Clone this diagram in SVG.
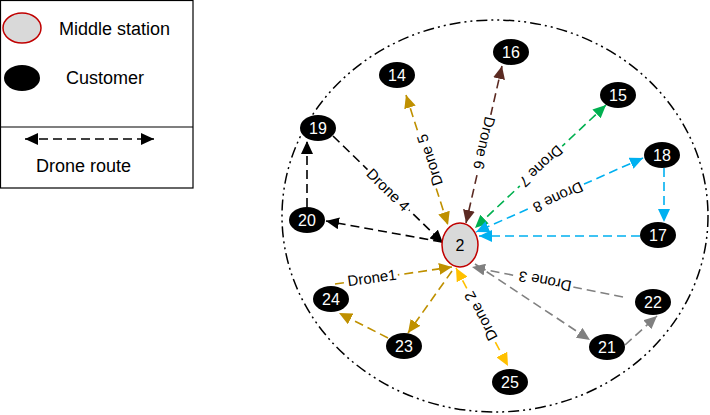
<svg xmlns="http://www.w3.org/2000/svg" width="710" height="415" viewBox="0 0 710 415">
<style>
text{font-family:"Liberation Sans",Arial,sans-serif}
.cust{fill:#000}
.nl{fill:#fff;font-size:16px;text-anchor:middle}
.lg{fill:#000;font-size:18px}
.r{fill:none;stroke-width:1.6;stroke-dasharray:9,5}
.dl{font-size:15px;text-anchor:middle;fill:#000}
.bg{fill:#fff}
</style>
<defs>
<marker id="mk" markerUnits="userSpaceOnUse" markerWidth="14" markerHeight="12" refX="13" refY="6" orient="auto-start-reverse"><path d="M0,0 L13,6 L0,12 z" fill="#000"/></marker>
<marker id="mg" markerUnits="userSpaceOnUse" markerWidth="14" markerHeight="12" refX="13" refY="6" orient="auto-start-reverse"><path d="M0,0 L13,6 L0,12 z" fill="#BF9000"/></marker>
<marker id="mb" markerUnits="userSpaceOnUse" markerWidth="14" markerHeight="12" refX="13" refY="6" orient="auto-start-reverse"><path d="M0,0 L13,6 L0,12 z" fill="#5B2A22"/></marker>
<marker id="mn" markerUnits="userSpaceOnUse" markerWidth="14" markerHeight="12" refX="13" refY="6" orient="auto-start-reverse"><path d="M0,0 L13,6 L0,12 z" fill="#00B050"/></marker>
<marker id="mc" markerUnits="userSpaceOnUse" markerWidth="14" markerHeight="12" refX="13" refY="6" orient="auto-start-reverse"><path d="M0,0 L13,6 L0,12 z" fill="#00B0F0"/></marker>
<marker id="ma" markerUnits="userSpaceOnUse" markerWidth="14" markerHeight="12" refX="13" refY="6" orient="auto-start-reverse"><path d="M0,0 L13,6 L0,12 z" fill="#808080"/></marker>
<marker id="my" markerUnits="userSpaceOnUse" markerWidth="14" markerHeight="12" refX="13" refY="6" orient="auto-start-reverse"><path d="M0,0 L13,6 L0,12 z" fill="#FFC000"/></marker>
</defs>

<g id="legend">
<rect x="0.5" y="0.5" width="192.5" height="187.5" fill="#fff" stroke="#000" stroke-width="1.2"/>
<line x1="0.5" y1="127" x2="193" y2="127" stroke="#000" stroke-width="1.2"/>
<ellipse cx="22" cy="28" rx="19" ry="15" fill="#D9D9D9" stroke="#C00000" stroke-width="1.5"/>
<text class="lg" x="59" y="35">Middle station</text>
<ellipse cx="22" cy="78" rx="18" ry="13" fill="#000"/>
<text class="lg" x="66" y="84">Customer</text>
<line x1="25" y1="139" x2="154" y2="139" stroke="#000" class="r" marker-start="url(#mk)" marker-end="url(#mk)"/>
<text class="lg" x="36" y="172">Drone route</text>
</g>

<ellipse id="region" cx="495" cy="216" rx="213" ry="196" fill="none" stroke="#000" stroke-width="1.5" stroke-dasharray="11,4,2,4,2,4"/>

<g id="connectors">
<line x1="333" y1="136" x2="443" y2="243" stroke="#000" class="r" marker-end="url(#mk)"/>
<line x1="442" y1="242" x2="326" y2="221" stroke="#000" class="r" marker-end="url(#mk)"/>
<line x1="307" y1="207" x2="307" y2="141" stroke="#000" class="r" marker-end="url(#mk)"/>
<line x1="406" y1="95" x2="448" y2="225" stroke="#BF9000" class="r" marker-start="url(#mg)" marker-end="url(#mg)"/>
<line x1="502" y1="66" x2="466" y2="223" stroke="#5B2A22" class="r" marker-start="url(#mb)" marker-end="url(#mb)"/>
<line x1="606" y1="105" x2="475" y2="228" stroke="#00B050" class="r" marker-start="url(#mn)" marker-end="url(#mn)"/>
<line x1="643" y1="158" x2="476" y2="232" stroke="#00B0F0" class="r" marker-start="url(#mc)" marker-end="url(#mc)"/>
<line x1="664" y1="168" x2="664" y2="222" stroke="#00B0F0" class="r" marker-end="url(#mc)"/>
<line x1="640" y1="236" x2="479" y2="236" stroke="#00B0F0" class="r" marker-end="url(#mc)"/>
<line x1="623" y1="297" x2="472" y2="267" stroke="#808080" class="r" marker-end="url(#ma)"/>
<line x1="475" y1="264" x2="590" y2="340" stroke="#808080" class="r" marker-end="url(#ma)"/>
<line x1="625" y1="345" x2="657" y2="316" stroke="#808080" class="r" marker-end="url(#ma)"/>
<line x1="335" y1="284" x2="452" y2="267" stroke="#BF9000" class="r" marker-end="url(#mg)"/>
<line x1="452" y1="271" x2="408" y2="333" stroke="#BF9000" class="r" marker-end="url(#mg)"/>
<line x1="388" y1="338" x2="339" y2="313" stroke="#BF9000" class="r" marker-end="url(#mg)"/>
<line x1="456" y1="268" x2="508" y2="366" stroke="#FFC000" class="r" marker-start="url(#my)" marker-end="url(#my)"/>

<g transform="translate(388,190) rotate(44.5)"><rect class="bg" x="-29" y="-8" width="58" height="16"/><text class="dl" y="5">Drone 4</text></g>
<g transform="translate(430,160) rotate(252)"><rect class="bg" x="-29" y="-8" width="58" height="16"/><text class="dl" y="5">Drone 5</text></g>
<g transform="translate(484,143) rotate(103)"><rect class="bg" x="-29" y="-8" width="58" height="16"/><text class="dl" y="5">Drone 6</text></g>
<g transform="translate(541,166) rotate(137)"><rect class="bg" x="-29" y="-8" width="58" height="16"/><text class="dl" y="5">Drone 7</text></g>
<g transform="translate(558,197) rotate(155)"><rect class="bg" x="-29" y="-8" width="58" height="16"/><text class="dl" y="5">Drone 8</text></g>
<g transform="translate(545,281) rotate(191)"><rect class="bg" x="-29" y="-8" width="58" height="16"/><text class="dl" y="5">Drone 3</text></g>
<g transform="translate(372,278) rotate(-8)"><rect class="bg" x="-26" y="-8" width="52" height="16"/><text class="dl" y="5">Drone1</text></g>
<g transform="translate(481,316) rotate(242)"><rect class="bg" x="-28" y="-8" width="56" height="16"/><text class="dl" y="5">Drone 2</text></g>
</g>

<g id="n2"><ellipse cx="460" cy="245" rx="18" ry="22" fill="#D9D9D9" stroke="#C00000" stroke-width="1.5"/><text x="460" y="251" font-size="16" text-anchor="middle" fill="#000">2</text></g>
<g id="n14"><ellipse class="cust" cx="397" cy="75" rx="18" ry="13"/><text class="nl" x="397" y="81">14</text></g>
<g id="n16"><ellipse class="cust" cx="511" cy="52" rx="18" ry="13"/><text class="nl" x="511" y="58">16</text></g>
<g id="n15"><ellipse class="cust" cx="618" cy="95" rx="18" ry="13"/><text class="nl" x="618" y="101">15</text></g>
<g id="n18"><ellipse class="cust" cx="662" cy="155" rx="18" ry="13"/><text class="nl" x="662" y="161">18</text></g>
<g id="n17"><ellipse class="cust" cx="658" cy="235" rx="18" ry="13"/><text class="nl" x="658" y="241">17</text></g>
<g id="n19"><ellipse class="cust" cx="318" cy="128" rx="18" ry="13"/><text class="nl" x="318" y="134">19</text></g>
<g id="n20"><ellipse class="cust" cx="307" cy="220" rx="18" ry="13"/><text class="nl" x="307" y="226">20</text></g>
<g id="n24"><ellipse class="cust" cx="331" cy="299" rx="18" ry="13"/><text class="nl" x="331" y="305">24</text></g>
<g id="n23"><ellipse class="cust" cx="404" cy="346" rx="18" ry="13"/><text class="nl" x="404" y="352">23</text></g>
<g id="n25"><ellipse class="cust" cx="510" cy="382" rx="18" ry="13"/><text class="nl" x="510" y="388">25</text></g>
<g id="n21"><ellipse class="cust" cx="607" cy="347" rx="18" ry="13"/><text class="nl" x="607" y="353">21</text></g>
<g id="n22"><ellipse class="cust" cx="653" cy="302" rx="18" ry="13"/><text class="nl" x="653" y="308">22</text></g>
</svg>
